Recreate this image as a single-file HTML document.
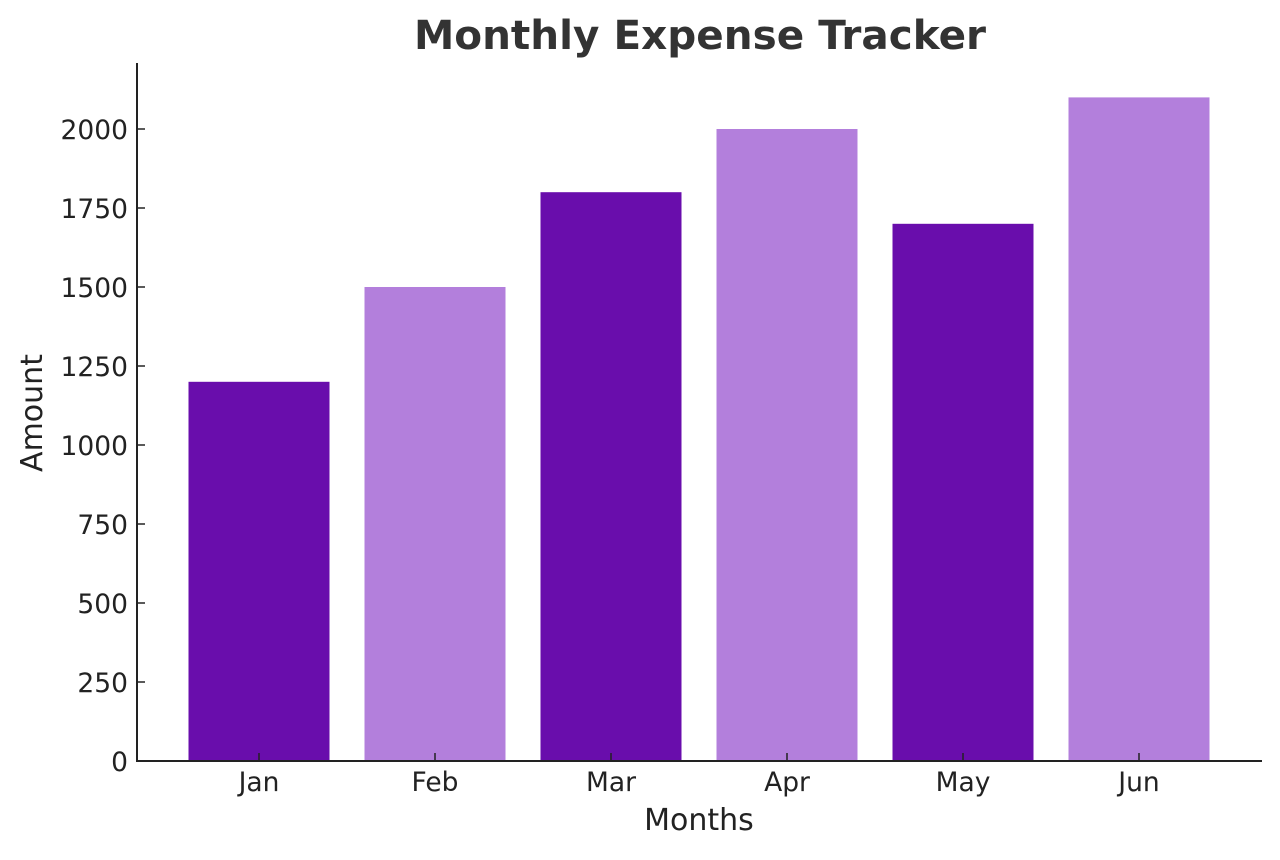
<!DOCTYPE html>
<html><head><meta charset="utf-8"><style>
body{margin:0;background:#fff}
svg text{font-family:"DejaVu Sans","Liberation Sans",sans-serif;fill:#222}
</style></head><body>
<svg width="1280" height="855">
<g id="bars"></g>
<g id="axes"></g>
<text x="700" y="49" text-anchor="middle" font-size="40.5" font-weight="bold" style="fill:#333">Monthly Expense Tracker</text>
<text x="699" y="830" text-anchor="middle" font-size="30">Months</text>
<text transform="translate(42,413) rotate(-90)" text-anchor="middle" font-size="30">Amount</text>
</svg>
<script>
const categories=["Jan","Feb","Mar","Apr","May","Jun"];
const amounts=[1200,1500,1800,2000,1700,2100];
const colors=["#690dac","#b37fdc","#690dac","#b37fdc","#690dac","#b37fdc"];
const yTicks=[0,250,500,750,1000,1250,1500,1750,2000];
const NS="http://www.w3.org/2000/svg";
const x0=137,x1=1262,y0=761;
const yScale=v=>y0-v*0.316;
const xCenter=i=>259+i*176;
const bw=141;
const bars=document.getElementById('bars'),axes=document.getElementById('axes');
function mk(t,a,p){const e=document.createElementNS(NS,t);for(const k in a)e.setAttribute(k,a[k]);p.appendChild(e);return e;}
amounts.forEach((v,i)=>{
 const r=mk('rect',{x:xCenter(i)-bw/2,y:yScale(v),width:bw,height:y0-yScale(v),fill:colors[i%colors.length]},bars);
 
 
 const t=mk('line',{x1:xCenter(i),x2:xCenter(i),y1:y0,y2:y0-8,stroke:'#222','stroke-width':1.5},axes);
 
 
 const l=mk('text',{x:xCenter(i),y:791,'text-anchor':'middle','font-size':26.5},axes);
 l.textContent=categories[i];
 
 
});
yTicks.forEach(v=>{
 const t=mk('line',{x1:x0,x2:x0+8,y1:yScale(v),y2:yScale(v),stroke:'#222','stroke-width':1.5},axes);
 
 
 const l=mk('text',{x:128,y:yScale(v)+10,'text-anchor':'end','font-size':26.5},axes);
 l.textContent=v;
 
 
});
const ya=mk('line',{x1:x0,x2:x0,y1:63,y2:y0+1,stroke:'#222','stroke-width':2},axes);


const xa=mk('line',{x1:x0-1,x2:x1,y1:y0,y2:y0,stroke:'#222','stroke-width':2},axes);


</script>
</body></html>
